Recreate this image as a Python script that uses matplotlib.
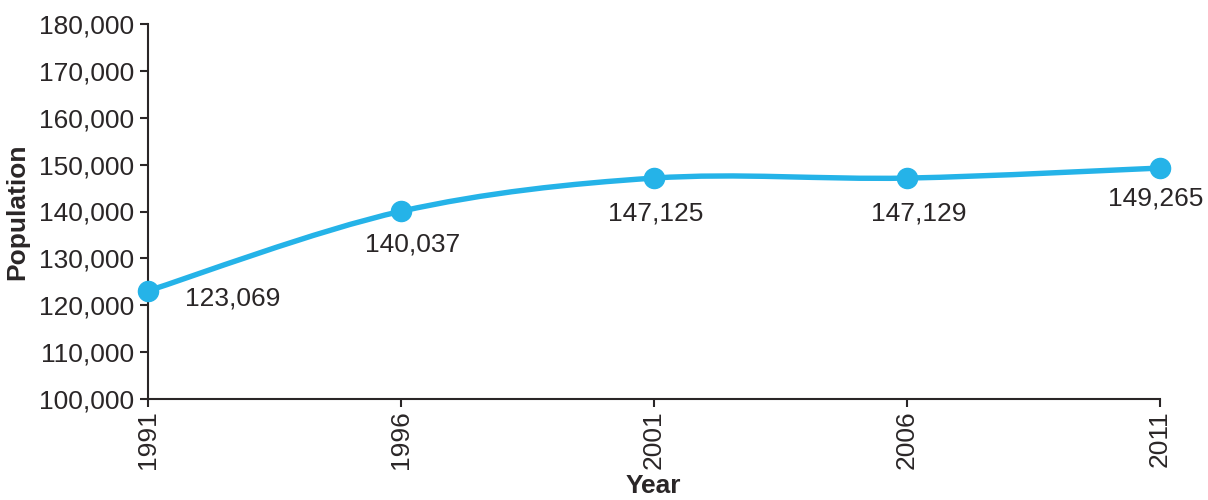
import matplotlib
matplotlib.use('Agg')
import matplotlib.pyplot as plt
import matplotlib.ticker as mticker
from matplotlib.path import Path
from matplotlib.patches import PathPatch
import numpy as np

plt.rcParams['font.family'] = ['Liberation Sans', 'DejaVu Sans']
plt.rcParams['font.size'] = 19

years = [1991, 1996, 2001, 2006, 2011]
population = [123069, 140037, 147125, 147129, 149265]
# where each value label sits relative to its point (pixels)
label_offsets = [(85, -8), (12, -33), (2, -35), (12, -35), (-4, -30)]

blue = '#25b3e8'
ink = '#2a2627'


def smooth_path(xs, ys):
    # Catmull-Rom through the points, written as cubic bezier segments
    xs = np.asarray(xs, dtype=float)
    ys = np.asarray(ys, dtype=float)
    pts = np.column_stack([xs, ys])
    n = len(pts)
    verts = [pts[0]]
    codes = [Path.MOVETO]
    for i in range(n - 1):
        p0 = pts[i - 1] if i > 0 else pts[i]
        p1 = pts[i]
        p2 = pts[i + 1]
        p3 = pts[i + 2] if i + 2 < n else pts[i + 1]
        c1 = p1 + (p2 - p0) / 6.0
        c2 = p2 - (p3 - p1) / 6.0
        verts += [c1, c2, p2]
        codes += [Path.CURVE4] * 3
    return Path(verts, codes)


fig = plt.figure(figsize=(12.08, 5), dpi=100)
ax = fig.add_axes([0.1225, 0.202, 0.8375, 0.75])

ax.add_patch(PathPatch(smooth_path(years, population), facecolor='none',
                       edgecolor=blue, linewidth=3.9, capstyle='round',
                       clip_on=False, zorder=2))
ax.plot(years, population, 'o', color=blue, markersize=14.5, clip_on=False, zorder=3)

for x, y, (dx, dy) in zip(years, population, label_offsets):
    ax.annotate('{:,}'.format(y), (x, y), xytext=(dx, dy), textcoords='offset pixels',
                ha='center', va='center', color=ink, fontsize=19)

ax.set_xlim(1991, 2011)
ax.set_ylim(100000, 180000)
ax.set_xticks(years)
ax.set_xticklabels([str(y) for y in years], rotation=90)
ax.yaxis.set_major_locator(mticker.MultipleLocator(10000))
ax.yaxis.set_major_formatter(mticker.FuncFormatter(lambda v, p: '{:,}'.format(int(v))))

for side in ['top', 'right']:
    ax.spines[side].set_visible(False)
for side in ['left', 'bottom']:
    ax.spines[side].set_color(ink)
    ax.spines[side].set_linewidth(1.5)
ax.tick_params(direction='out', length=6, width=1.5, color=ink, labelcolor=ink,
               labelsize=19)
ax.tick_params(axis='x', pad=2)
ax.tick_params(axis='y', pad=4)

ax.set_xlabel('Year', fontweight='bold', color=ink, fontsize=19, labelpad=4)
ax.set_ylabel('Population', fontweight='bold', color=ink, fontsize=19, labelpad=7)

plt.savefig('out.png', dpi=100)
